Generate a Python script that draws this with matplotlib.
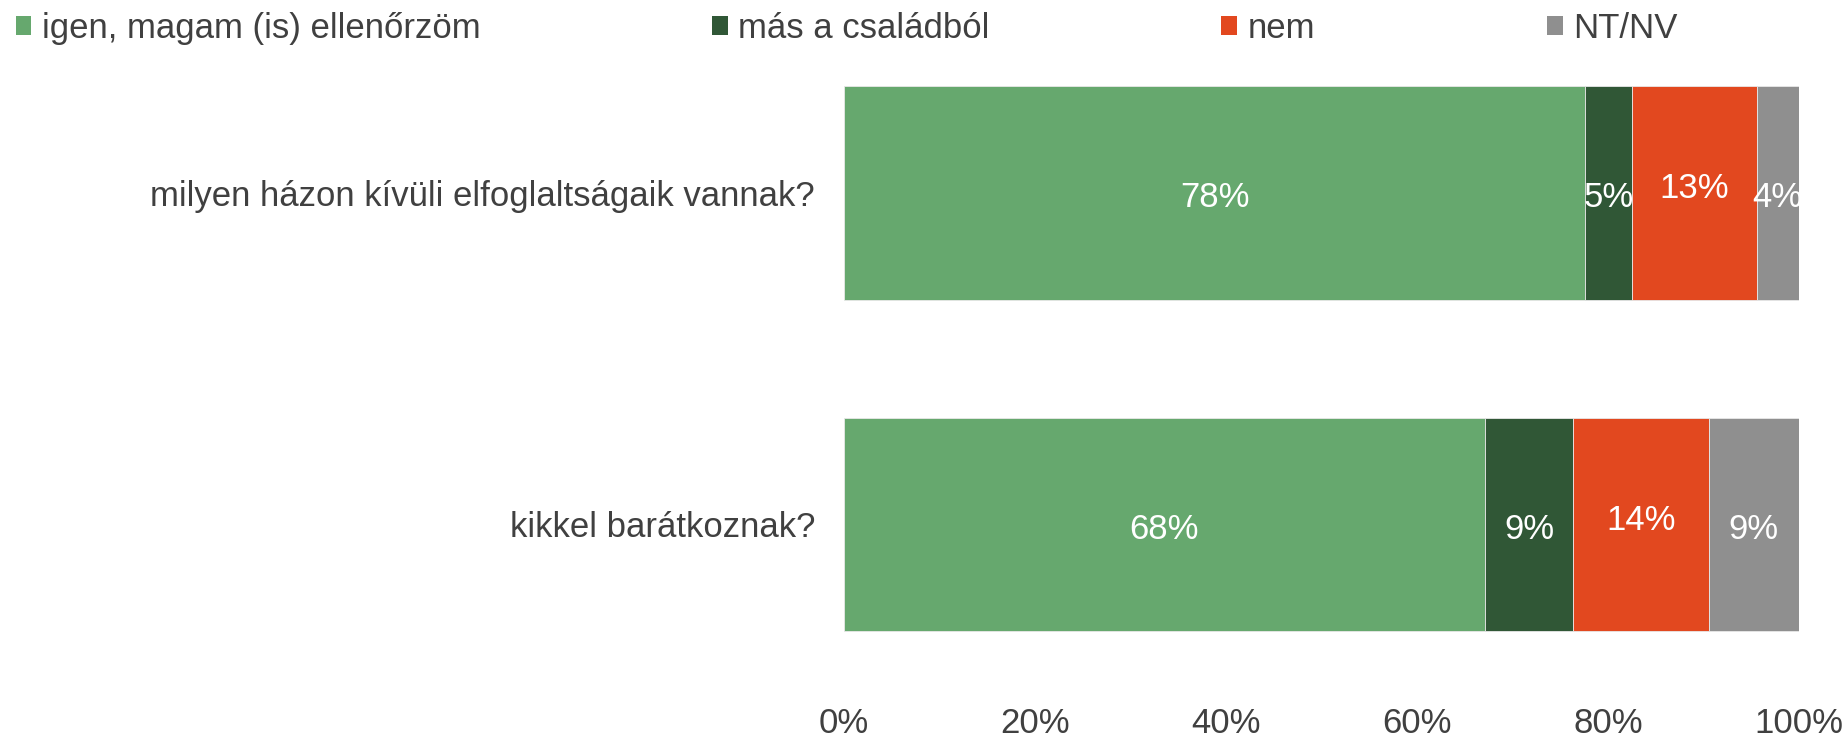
import matplotlib
matplotlib.use("Agg")
import matplotlib.pyplot as plt
from matplotlib.patches import Patch

plt.rcParams["font.family"] = ["Liberation Sans", "DejaVu Sans"]

categories = ["kikkel barátkoznak?", "milyen házon kívüli elfoglaltságaik vannak?"]
series_names = ["igen, magam (is) ellenőrzöm", "más a családból", "nem", "NT/NV"]
colors = ["#66A86E", "#305736", "#E2481F", "#8F8F8F"]
# segment shares (%), bottom row first
igen = [67.1, 77.6]
mas = [9.3, 4.9]
nem = [14.2, 13.1]
ntnv = [9.4, 4.4]
# labels as printed on the chart
igen_lbl = ["68%", "78%"]
mas_lbl = ["9%", "5%"]
nem_lbl = ["14%", "13%"]
ntnv_lbl = ["9%", "4%"]

values = [igen, mas, nem, ntnv]
labels = [igen_lbl, mas_lbl, nem_lbl, ntnv_lbl]
text_color = "#404040"

fig = plt.figure(figsize=(18.43, 7.39), dpi=100)
ax = fig.add_axes([0.458, 0.0663, 0.518, 0.897])

ypos = range(len(categories))
left = [0.0] * len(categories)
for i, (vals, lbls) in enumerate(zip(values, labels)):
    bars = ax.barh(ypos, vals, left=left, height=0.644, color=colors[i],
                   edgecolor="#e8e8e8", linewidth=0.6, label=series_names[i])
    for j, bar in enumerate(bars):
        cx = bar.get_x() + bar.get_width() / 2
        cy = bar.get_y() + bar.get_height() / 2
        dy = 0.012 if i == 2 else -0.015
        ax.text(cx, cy + dy, lbls[j], ha="center", va="center",
                color="white", fontsize=25)
    left = [l + v for l, v in zip(left, vals)]

ax.set_xlim(0, 100)
ax.set_ylim(-0.5, 1.5)
ax.set_xticks(range(0, 101, 20))
ax.set_xticklabels([f"{t}%" for t in range(0, 101, 20)])
ax.set_yticks(list(ypos))
ax.set_yticklabels(categories)
ax.tick_params(axis="x", length=0, pad=12, labelsize=25, labelcolor=text_color)
ax.tick_params(axis="y", length=0, pad=21, labelsize=25, labelcolor=text_color)
for s in ax.spines.values():
    s.set_visible(False)

handles = [Patch(facecolor=c, edgecolor="none") for c in colors]
fig.legend(handles, series_names, loc="upper left", bbox_to_anchor=(-0.001, 1.007),
           ncol=4, frameon=False, fontsize=25, labelcolor=text_color,
           handlelength=0.45, handleheight=0.45, handletextpad=0.3,
           columnspacing=6.68, borderaxespad=0.1)

fig.savefig("out.png", dpi=100)
